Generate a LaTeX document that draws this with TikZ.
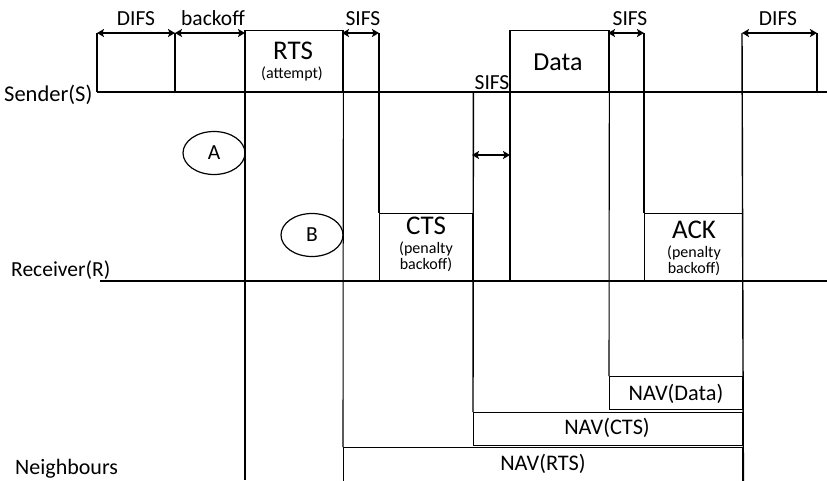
\documentclass[tikz,border=0pt]{standalone}
\usepackage{fontspec}
\setmainfont{Carlito}
\usetikzlibrary{arrows.meta,shapes.geometric}
\tikzset{
  wire/.style={line width=1.4pt},
  thin wire/.style={line width=1.1pt},
  tip/.tip={Stealth[length=7pt,width=8pt,inset=1.5pt]},
  gap/.style={line width=1.6pt,{tip}-{tip}},
  frame/.style={draw,line width=1.4pt,inner sep=0pt,anchor=north west},
  big/.style={font=\fontsize{21.5}{24}\selectfont,inner sep=0pt,anchor=base},
  side/.style={inner sep=0pt,anchor=base west},
  nav/.style={font=\fontsize{22.3}{25}\selectfont,inner sep=0pt,anchor=base},
  huge/.style={font=\fontsize{27}{30}\selectfont,inner sep=0pt,anchor=base},
  small/.style={font=\fontsize{16}{18}\selectfont,inner sep=0pt,anchor=base},
  station/.style={draw,ellipse,line width=1.2pt,minimum width=62pt,minimum height=43pt,inner sep=0pt,
    font=\fontsize{21.5}{24}\selectfont},
}
\begin{document}
\begin{tikzpicture}[x=1pt,y=-1pt]
\useasboundingbox (0,0) rectangle (827,480);

% frames sent on the medium
\node[frame,minimum width=97pt,minimum height=62pt] (rts) at (245,30) {};
\node[frame,minimum width=98pt,minimum height=62pt] (data) at (510,30) {};
\node[frame,minimum width=93pt,minimum height=68pt] (cts) at (379,213) {};
\node[frame,minimum width=98pt,minimum height=68pt] (ack) at (644,213) {};

% NAV timers of the neighbours
\node[frame,minimum width=133pt,minimum height=33pt] (navdata) at (609,376) {};
\node[frame,minimum width=269pt,minimum height=33pt] (navcts) at (473,412) {};
\node[frame,minimum width=399pt,minimum height=40pt] (navrts) at (343,447) {};

% time lines
\coordinate (s0) at (97,92);   \coordinate (s1) at (827,92);
\coordinate (r0) at (100,281); \coordinate (r1) at (827,281);
\draw[wire] (s0) -- (s1);
\draw[wire] (r0) -- (r1);

% tick marks for the intervals
\coordinate (d1a) at (97,33);  \coordinate (d1b) at (175,33);
\coordinate (b1b) at (245,33);
\coordinate (f1a) at (342,33); \coordinate (f1b) at (379,33);
\coordinate (f3a) at (608,33); \coordinate (f3b) at (644,33);
\coordinate (d2a) at (742,33); \coordinate (d2b) at (817,33);
\coordinate (f2a) at (472,155); \coordinate (f2b) at (510,155);

\draw[wire] (d1a) -- (d1a |- s0);
\draw[wire] (d1b) -- (d1b |- s0);
\draw[wire] (rts.north west) -- (rts.north west |- 0,480);
\draw[thin wire] (rts.north east) -- (navrts.north west);
\draw[wire] (f1b) -- (cts.north west);
\draw[wire] (cts.north east |- s0) -- (navcts.north west);
\draw[wire] (data.north west) -- (data.north west |- r0);
\draw[thin wire] (data.north east) -- (navdata.north west);
\draw[wire] (f3b) -- (ack.north west);
\draw[wire] (d2a) -- (navrts.south east);
\draw[wire] (d2b) -- (d2b |- s0);

% interval arrows
\draw[gap] (d1a) -- (d1b);
\draw[gap] (d1b) -- (b1b);
\draw[gap] (f1a) -- (f1b);
\draw[gap] (f3a) -- (f3b);
\draw[gap] (d2a) -- (d2b);
\draw[gap] (f2a) -- (f2b);

% interval labels
\node[big] at (136,25) {DIFS};
\node[big] at (213,25) {backoff};
\node[big] at (363,25) {SIFS};
\node[big] at (492,89) {SIFS};
\node[big] at (630,25) {SIFS};
\node[big] at (778,25) {DIFS};

% station names
\node[side,font=\fontsize{22.5}{25}\selectfont] at (4,101) {Sender(S)};
\node[side,font=\fontsize{21.5}{24}\selectfont] at (11,276) {Receiver(R)};
\node[side,font=\fontsize{22}{25}\selectfont] at (15,474) {Neighbours};

% frame labels
\node[huge] at (293,59) {RTS};
\node[small] at (292,78) {(attempt)};
\node[huge,font=\fontsize{26}{30}\selectfont] at (558,70) {Data};
\node[huge] at (426,234) {CTS};
\node[small] at (426,253) {(penalty};
\node[small] at (426,269) {backoff)};
\node[huge] at (694,238) {ACK};
\node[small] at (694,257) {(penalty};
\node[small] at (694,273) {backoff)};
\node[nav] at (676,400) {NAV(Data)};
\node[nav] at (607,434) {NAV(CTS)};
\node[nav] at (543,470) {NAV(RTS)};

% hidden stations
\node[station] (A) at (214,153) {A};
\node[station] (B) at (312,235) {B};
\end{tikzpicture}
\end{document}
